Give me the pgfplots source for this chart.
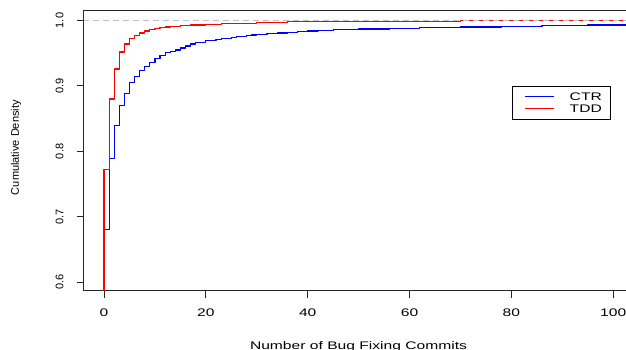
\documentclass[border=0pt]{standalone}
\usepackage{fontspec}
\setmainfont{Liberation Sans}[FakeStretch=1.42]
\newfontfamily\rotfont{Liberation Sans}
\usepackage{pgfplots}
\pgfplotsset{compat=1.18}
\definecolor{cdfblue}{RGB}{0,0,255}
\definecolor{cdfred}{RGB}{255,0,0}
\definecolor{cdfgray}{RGB}{190,190,190}
\pgfplotsset{
  cdflegend/.style={legend image code/.code={\path[draw=none] (-5pt,-4pt) rectangle (29pt,4pt); \draw[##1, line width=1.2pt] (0pt,0pt) -- (29pt,0pt);}}
}
\begin{document}
\begin{tikzpicture}
\begin{axis}[
  at={(84pt,59pt)}, anchor=south west,
  scale only axis, width=542pt, height=280.5pt,
  xmin=-3.93, xmax=102.5, ymin=0.5867, ymax=1.0153,
  axis x line*=box, axis y line*=left,
  axis line style={line width=1pt, draw=black!85},
  xtick={0,20,40,60,80,100}, ytick={0.6,0.7,0.8,0.9,1.0},
  xtick pos=left, ytick pos=left,
  tick align=outside, major tick length=7pt,
  tick style={line width=1pt, draw=black!85},
  /pgf/number format/assume math mode=true,
  xticklabel style={font=\fontsize{11}{11}\selectfont, anchor=base, yshift=-19pt},
  yticklabel shift=13.7pt,
  yticklabel style={/pgf/number format/.cd, fixed, fixed zerofill, precision=1, /tikz/.cd,
     rotate=90, anchor=base, font=\rotfont\fontsize{11}{11}\selectfont},
  xlabel={Number of Bug Fixing Commits},
  ylabel={Cumulative Density},
  every axis x label/.style={at={(axis description cs:0.5065,-0.209)}, anchor=base, font=\fontsize{11}{11}\selectfont},
  every axis y label/.style={at={(axis description cs:-0.1255,0.511)}, rotate=90, anchor=center, font=\rotfont\fontsize{11}{11}\selectfont},
  legend style={at={(rel axis cs:0.789,0.731)}, anchor=north west, draw=black,
     font=\fontsize{11}{11}\selectfont, inner ysep=6.7pt, inner xsep=8.3pt,
     nodes={inner sep=0pt, text height=8pt, text depth=0pt}, row sep=3.6pt,
     /tikz/every odd column/.append style={column sep=15pt}},
  legend cell align=left,
  cdflegend,
]
\addplot[draw=cdfblue, line width=1.2pt, line join=round, const plot] coordinates {
(-10,0) (0,0.681) (1,0.789) (2,0.839) (3,0.870) (4,0.888) (5,0.905) (6,0.914) (7,0.923) (8,0.930) (9,0.936) (10,0.942) (11,0.947) (12,0.951) (13,0.953) (14,0.955) (15,0.958) (16,0.961) (17,0.964) (18,0.966) (19,0.967) (20,0.969) (21,0.970) (22,0.971) (23,0.972) (24,0.973) (25,0.974) (26,0.975) (27,0.976) (28,0.977) (29,0.978) (30,0.979) (32,0.980) (34,0.981) (36,0.982) (38,0.983) (40,0.984) (42,0.985) (45,0.986) (50,0.987) (56,0.988) (62,0.989) (70,0.990) (78,0.991) (86,0.992) (95,0.993) (110,0.994)};
\addlegendentry{CTR}
\addplot[draw=cdfred, line width=1.2pt, line join=round, const plot] coordinates {
(-10,0) (0,0.772) (1,0.880) (2,0.926) (3,0.952) (4,0.964) (5,0.972) (6,0.977) (7,0.981) (8,0.984) (9,0.986) (10,0.988) (11,0.989) (12,0.990) (13,0.991) (15,0.992) (17,0.993) (20,0.994) (23,0.995) (26,0.996) (30,0.997) (36,0.998) (48,0.999) (70,0.9995) (101,1.0) (110,1.0)};
\addlegendentry{TDD}
\addplot[draw=cdfgray, line width=1.2pt, dash pattern=on 6pt off 4pt, forget plot] coordinates {(-10,1) (110,1)};
\end{axis}
\pgfresetboundingbox
\path[use as bounding box] (0,0) rectangle (626pt,350pt);
\end{tikzpicture}
\end{document}
